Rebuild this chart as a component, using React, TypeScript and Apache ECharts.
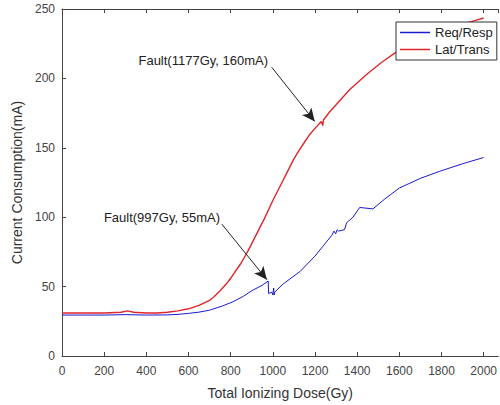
import React, { useEffect, useRef } from "react";
import * as echarts from "echarts";

const seriesNames = ["Req/Resp", "Lat/Trans"];

const reqRespX = [0, 100, 200, 300, 400, 500, 550, 600, 650, 700, 760, 810, 860, 900, 950, 978, 980, 995, 1000, 1004, 1006, 1009, 1050, 1130, 1200, 1280, 1290, 1298, 1305, 1312, 1340, 1350, 1380, 1412, 1475, 1530, 1600, 1700, 1790, 1900, 2000];
const reqRespY = [29.5, 29.5, 29.5, 29.8, 29.5, 29.6, 30, 30.7, 31.6, 33, 36, 39, 43, 47, 51, 54, 45, 46, 44, 49, 44, 46, 52, 61, 72, 87, 90, 88, 91, 90, 91, 96, 100, 107, 106, 113, 121, 128, 133, 138.5, 143];

const latTransX = [0, 100, 200, 280, 310, 340, 400, 450, 500, 550, 600, 650, 700, 720, 750, 780, 800, 820, 850, 880, 900, 940, 960, 1000, 1020, 1050, 1070, 1100, 1120, 1150, 1177, 1200, 1230, 1237, 1240, 1270, 1300, 1365, 1450, 1520, 1590, 1650, 1700, 1800, 1900, 1950, 2000];
const latTransY = [31, 31, 31, 31.5, 32.5, 31.5, 31, 31, 31.5, 32.5, 34, 36.5, 40, 42.5, 47, 52, 56, 60.5, 67, 75, 81, 93, 99, 112, 118, 127, 133, 142, 147, 154, 160, 164, 169, 166, 170, 176, 181, 192, 203.5, 212, 219.5, 224.5, 228, 234, 239, 241.3, 243.5];

const xTicks = { min: 0, max: 2070, interval: 200 };
const yTicks = { min: 0, max: 250, interval: 50 };

const annotations = [
  { text: "Fault(997Gy, 55mA)", label: [474, 100], from: [758, 95], to: [972, 55] },
  { text: "Fault(1177Gy, 160mA)", label: [670, 213], from: [995, 208], to: [1199, 169] },
];

export default function App() {
  const ref = useRef<HTMLDivElement>(null);
  useEffect(() => {
    if (!ref.current) return;
    const chart = echarts.init(ref.current, null, { renderer: "svg" });
    const font = "Liberation Sans, Arial, sans-serif";
    const axisColor = "#444";
    const toPairs = (xs: number[], ys: number[]) => xs.map((x, i) => [x, ys[i]]);
    chart.setOption({
      animation: false,
      backgroundColor: "#fff",
      textStyle: { fontFamily: font },
      grid: { left: 62, top: 9, right: 1, bottom: 48 },
      legend: {
        orient: "vertical",
        left: 396,
        top: 22,
        width: 95,
        padding: [3, 4, 3, 4],
        itemGap: 2,
        itemWidth: 30,
        itemHeight: 1.5,
        icon: "rect",
        borderColor: "#333",
        borderWidth: 1,
        backgroundColor: "#fff",
        textStyle: { fontSize: 13, color: "#222", lineHeight: 15, fontFamily: font },
        data: seriesNames,
      },
      xAxis: [
        {
          type: "value",
          min: xTicks.min,
          max: xTicks.max,
          interval: xTicks.interval,
          name: "Total Ionizing Dose(Gy)",
          nameLocation: "middle",
          nameGap: 30,
          nameTextStyle: { fontSize: 14, color: "#333", fontFamily: font },
          axisLine: { show: true, lineStyle: { color: axisColor } },
          axisTick: { show: true, inside: true, length: 4, lineStyle: { color: axisColor } },
          axisLabel: { fontSize: 12, color: "#444", margin: 9, showMaxLabel: false, fontFamily: font, formatter: (v: number) => String(v) },
          splitLine: { show: false },
        },
        {
          type: "value",
          position: "top",
          min: xTicks.min,
          max: xTicks.max,
          interval: xTicks.interval,
          axisLine: { show: true, lineStyle: { color: axisColor } },
          axisTick: { show: true, inside: true, length: 4, lineStyle: { color: axisColor } },
          axisLabel: { show: false },
          splitLine: { show: false },
        },
      ],
      yAxis: {
        type: "value",
        min: yTicks.min,
        max: yTicks.max,
        interval: yTicks.interval,
        name: "Current Consumption(mA)",
        nameLocation: "middle",
        nameGap: 30,
        nameTextStyle: { fontSize: 14, color: "#333", fontFamily: font },
        axisLine: { show: true, lineStyle: { color: axisColor } },
        axisTick: { show: true, inside: true, length: 4, lineStyle: { color: axisColor } },
        axisLabel: { fontSize: 12, color: "#444", margin: 7, fontFamily: font },
        splitLine: { show: false },
      },
      series: [
        {
          name: seriesNames[0],
          type: "line",
          xAxisIndex: 0,
          data: toPairs(reqRespX, reqRespY),
          symbol: "none",
          lineStyle: { color: "#1a1ad0", width: 1 },
          itemStyle: { color: "#1a1ad0" },
          z: 3,
          markLine: {
            silent: true,
            symbol: ["none", "arrow"],
            symbolSize: [9, 13],
            label: { show: false },
            lineStyle: { color: "#222", width: 1, type: "solid" },
            emphasis: { disabled: true },
            data: annotations.map((a) => [{ coord: a.from }, { coord: a.to }]),
          },
          markPoint: {
            silent: true,
            symbol: "circle",
            symbolSize: 0,
            label: { show: true, position: "inside", fontSize: 13, color: "#222", fontFamily: font },
            data: annotations.map((a) => ({ coord: a.label, value: a.text, label: { formatter: a.text } })),
          },
        },
        {
          name: seriesNames[1],
          type: "line",
          xAxisIndex: 0,
          data: toPairs(latTransX, latTransY),
          symbol: "none",
          lineStyle: { color: "#e0262a", width: 1.4 },
          itemStyle: { color: "#e0262a" },
          z: 2,
        },
      ],
    });
    return () => chart.dispose();
  }, []);
  return <div ref={ref} style={{ position: "absolute", left: 0, top: 0, width: 500, height: 405 }} />;
}
